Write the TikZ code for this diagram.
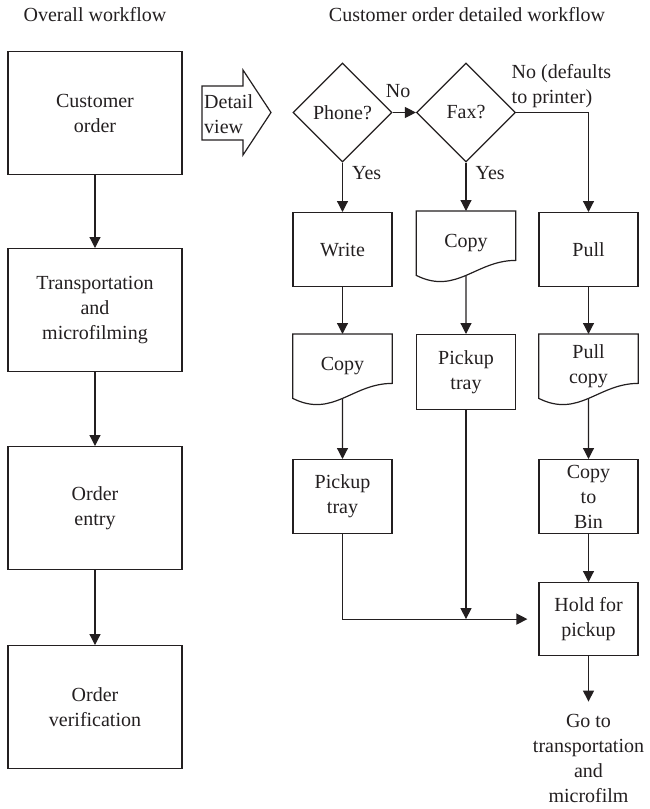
\documentclass[tikz,border=0pt]{standalone}
\usepackage{fontspec}
\setmainfont{Liberation Serif}
\usetikzlibrary{shapes.geometric,arrows.meta,calc}
\definecolor{ink}{HTML}{231F20}

% document symbol: straight top and sides, wavy bottom edge;
% (<name>-w) is the middle of the wave, where the outgoing line starts
\newcommand\docoutline[1]{%
  \draw[line] (#1.north west) -- (#1.north east) -- ([yshift=15pt]#1.south east)
    .. controls ([xshift=-40pt,yshift=15pt]#1.south east)
            and ([xshift=40pt,yshift=-20pt]#1.south west) .. (#1.south west)
    coordinate[pos=0.5] (#1-w) -- cycle;}

\begin{document}
\begin{tikzpicture}[x=1pt,y=-1pt,
  every node/.style={font=\fontsize{20}{25}\selectfont, text=ink, align=center},
  line/.style={draw=ink, line width=1.2pt},
  flow/.style={line, -{Triangle[length=11pt,width=11pt]}},
  box/.style={line, rectangle, inner sep=0pt, anchor=north,
              minimum width=99pt, minimum height=74pt},
  bigbox/.style={box, minimum width=174pt, minimum height=123pt},
  docbox/.style={rectangle, inner sep=0pt, anchor=north,
                 minimum width=99pt, minimum height=64pt},
  decision/.style={line, diamond, aspect=1, inner sep=0pt,
                   minimum width=99pt, minimum height=99pt},
  tag/.style={inner sep=0pt}
]
\useasboundingbox (0,0) rectangle (650,809);

% headings
\node (hdrL) at (95,15) {Overall workflow};
\node (hdrR) at (467,15) {Customer order detailed workflow};

% overall workflow
\node[bigbox] (cust)  at (95,51)  {Customer\\order};
\node[bigbox] (trans) at (95,248) {Transportation\\and\\microfilming};
\node[bigbox] (entry) at (95,446) {Order\\entry};
\node[bigbox] (verif) at (95,645) {Order\\verification};
\draw[flow] (cust.south)  -- (trans.north);
\draw[flow] (trans.south) -- (entry.north);
\draw[flow] (entry.south) -- (verif.north);

% block arrow leading to the detailed view
\draw[line] (202,86) -- (243,86) -- (243,70) -- (271,112.5)
            -- (243,155) -- (243,140) -- (202,140) -- cycle;
\node[tag, anchor=west, align=left] (detail) at (204,114) {Detail\\view};

% decisions
\node[decision] (phone) at (342.5,112.5) {Phone?};
\node[decision] (fax)   at (466,112.5)   {Fax?};

% second row
\node[box]    (write) at (342.5,212) {Write};
\node[docbox] (copyB) at (466,211)   {Copy};
\docoutline{copyB}
\node[box]    (pull)  at (588.5,212) {Pull};

% third row
\node[docbox] (copyA) at (342.5,334) {Copy};
\docoutline{copyA}
\node[box, minimum height=75pt] (pickB) at (466,334) {Pickup\\tray};
\node[docbox] (pullcopy) at (588.5,334) {Pull\\copy};
\docoutline{pullcopy}

% fourth row
\node[box] (pickA) at (342.5,459) {Pickup\\tray};
\node[box, text depth=-2pt] (bin) at (588.5,459) {Copy\\to\\Bin};

% collection point
\node[box, minimum height=73pt] (hold) at (588.5,582) {Hold for\\pickup};
\node[tag] (goto) at (588.5,758) {Go to\\transportation\\and\\microfilm};

% connectors
\draw[flow] (phone.east) -- node[tag, pos=0.24, anchor=south, yshift=14pt] {No} (fax.west);
\draw[flow] (phone.south) -- node[tag, pos=0.22, anchor=west, xshift=9pt] {Yes} (write.north);
\draw[flow] (fax.south) -- node[tag, pos=0.22, anchor=west, xshift=9pt] {Yes} (copyB.north);
\draw[flow] (fax.east) -| node[tag, pos=0, anchor=south west, xshift=-5pt, yshift=4pt, align=left]
  {No (defaults\\to printer)} (pull.north);

\draw[flow] (write.south) -- (copyA.north);
\draw[flow] (copyB-w) -- (pickB.north);
\draw[flow] (pull.south) -- (pullcopy.north);
\draw[flow] (copyA-w) -- (pickA.north);
\draw[flow] (pullcopy-w) -- (bin.north);
\draw[flow] (bin.south) -- (hold.north);

\coordinate (join) at (pickB.south |- hold.west);
\draw[flow, shorten >=11pt] (pickA.south) |- (hold.west);
\draw[flow] (pickB.south) -- (join);
\draw[flow, shorten >=12pt] (hold.south) -- (goto.north);
\end{tikzpicture}
\end{document}
